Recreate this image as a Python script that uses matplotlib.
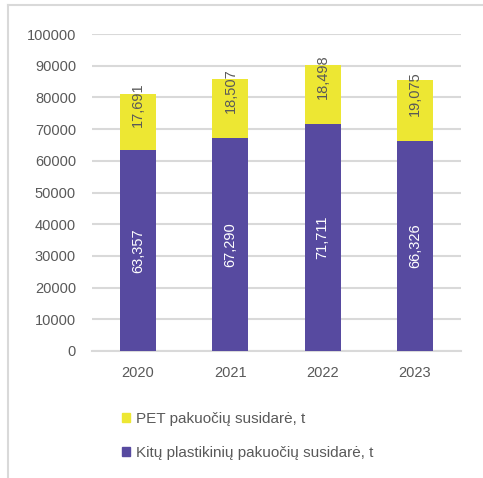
import matplotlib.pyplot as plt
import numpy as np
from matplotlib.lines import Line2D
from matplotlib.patches import Patch

years = ["2020", "2021", "2022", "2023"]
kitu = [63357, 67290, 71711, 66326]
pet = [17691, 18507, 18498, 19075]
kitu_labels = ["63,357", "67,290", "71,711", "66,326"]
pet_labels = ["17,691", "18,507", "18,498", "19,075"]

purple = "#574AA0"
yellow = "#EDE733"
grey = "#595959"

plt.rcParams["font.family"] = ["Liberation Sans", "DejaVu Sans"]

W, H = 483, 478
fig = plt.figure(figsize=(W / 100, H / 100), dpi=100)
ax = fig.add_axes([92 / W, 1 - 351 / H, (461 - 92) / W, (351 - 34) / H])

x = np.arange(len(years))
ax.bar(x, kitu, width=0.39, color=purple, zorder=3)
ax.bar(x, pet, width=0.39, bottom=kitu, color=yellow, zorder=3)

for i in range(len(years)):
    ax.text(x[i], kitu[i] / 2, kitu_labels[i], rotation=90, ha="center", va="center",
            color="white", fontsize=10.5, zorder=4)
    # the PET labels sit a bit higher than the middle of their segment
    ax.annotate(pet_labels[i], (x[i], kitu[i] + pet[i] / 2), xytext=(0, 12.5),
                textcoords="offset points", rotation=90, ha="center", va="center",
                color=grey, fontsize=10.5, zorder=4)

ax.set_xlim(-0.5, 3.5)
ax.set_ylim(0, 100000)
ax.set_yticks(range(0, 100001, 10000))
ax.set_xticks(x)
ax.set_xticklabels(years)
ax.yaxis.grid(True, color="#d9d9d9", linewidth=1.5, zorder=0)
ax.set_axisbelow(True)
for s in ["top", "right", "left"]:
    ax.spines[s].set_visible(False)
ax.spines["bottom"].set_color("#d9d9d9")
ax.spines["bottom"].set_linewidth(1.5)
ax.tick_params(length=0, colors=grey, labelsize=10.5)
ax.tick_params(axis="y", pad=11.5)
ax.tick_params(axis="x", pad=11)

# legend
handles = [Patch(color=yellow), Patch(color=purple)]
fig.legend(handles, ["PET pakuočių susidarė, t", "Kitų plastikinių pakuočių susidarė, t"],
           loc="upper left", bbox_to_anchor=(108 / W, 1 - 398 / H), frameon=False,
           fontsize=11, labelcolor=grey, handlelength=0.55, handleheight=0.55,
           handletextpad=0.35, labelspacing=1.3)

# outer frame
fig.add_artist(Line2D([8 / W, 1], [1 - 4.5 / H] * 2, color="#d9d9d9", linewidth=1.5))
fig.add_artist(Line2D([8 / W] * 2, [0, 1 - 4.5 / H], color="#d9d9d9", linewidth=1.5))

fig.savefig("out.png", dpi=100)
